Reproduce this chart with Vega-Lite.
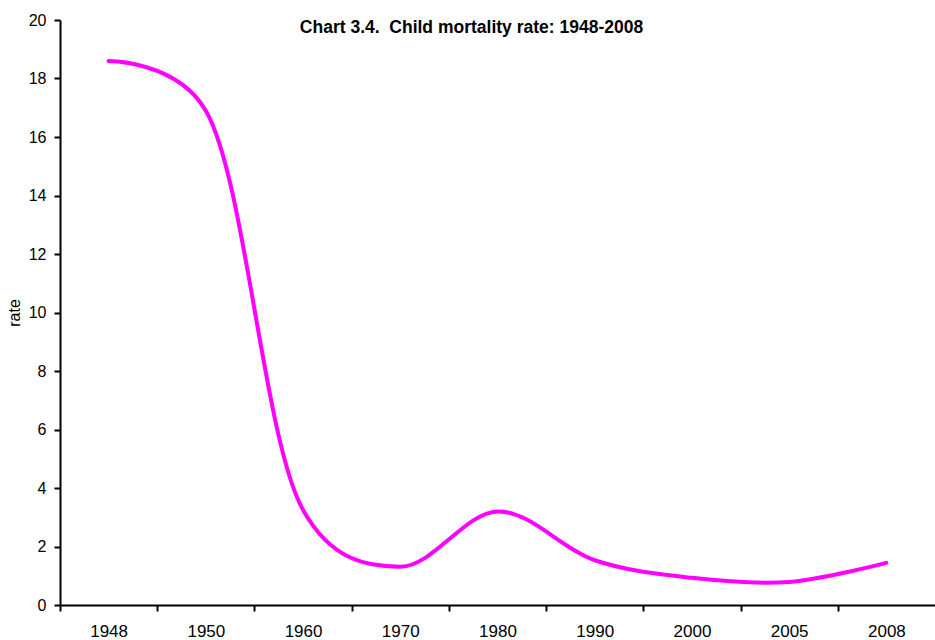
{
  "$schema": "https://vega.github.io/schema/vega-lite/v6.json",
  "autosize": {"type": "none"},
  "width": 875,
  "height": 585,
  "padding": {"left": 60, "top": 20, "right": 0, "bottom": 35},
  "background": "white",
  "title": {
    "text": "Chart 3.4.\u00a0\u00a0Child mortality rate: 1948-2008",
    "font": "Liberation Sans",
    "fontSize": 17.5,
    "fontWeight": "bold",
    "color": "black",
    "anchor": "middle",
    "frame": "group",
    "baseline": "top",
    "dx": -26,
    "offset": -24
  },
  "config": {
    "view": {"stroke": null},
    "axis": {
      "labelFont": "Liberation Sans",
      "titleFont": "Liberation Sans",
      "labelColor": "black",
      "titleColor": "black",
      "domainColor": "black",
      "tickColor": "black",
      "domainWidth": 2,
      "tickWidth": 2,
      "tickSize": 6,
      "grid": false,
      "labelFontSize": 17
    }
  },
  "data": {
    "values": [
      {"idx": 0, "year": "1948", "rate": 18.6},
      {"idx": 1, "year": "1950", "rate": 16.9},
      {"idx": 2, "year": "1960", "rate": 3.25},
      {"idx": 3, "year": "1970", "rate": 1.31},
      {"idx": 4, "year": "1980", "rate": 3.2},
      {"idx": 5, "year": "1990", "rate": 1.53},
      {"idx": 6, "year": "2000", "rate": 0.93},
      {"idx": 7, "year": "2005", "rate": 0.79},
      {"idx": 8, "year": "2008", "rate": 1.44}
    ]
  },
  "mark": {"type": "line", "interpolate": "catmull-rom", "tension": 0.25, "color": "#FF00FF", "strokeWidth": 4, "strokeCap": "round"},
  "encoding": {
    "x": {
      "field": "idx",
      "type": "quantitative",
      "scale": {"domain": [-0.5, 8.5], "nice": false, "zero": false},
      "axis": {
        "title": null,
        "values": [0, 1, 2, 3, 4, 5, 6, 7, 8],
        "labelExpr": "['1948','1950','1960','1970','1980','1990','2000','2005','2008'][datum.value]",
        "tickOffset": -48.61,
        "labelOffset": 48.61,
        "labelPadding": 12,
        "labelFlush": false,
        "labelOverlap": false
      }
    },
    "y": {
      "field": "rate",
      "type": "quantitative",
      "scale": {"domain": [0, 20], "nice": false},
      "axis": {
        "title": "rate",
        "titleFontSize": 16,
        "titleFontWeight": "normal",
        "titlePadding": 6,
        "labelFontSize": 16,
        "values": [0, 2, 4, 6, 8, 10, 12, 14, 16, 18, 20],
        "labelPadding": 8
      }
    }
  }
}
